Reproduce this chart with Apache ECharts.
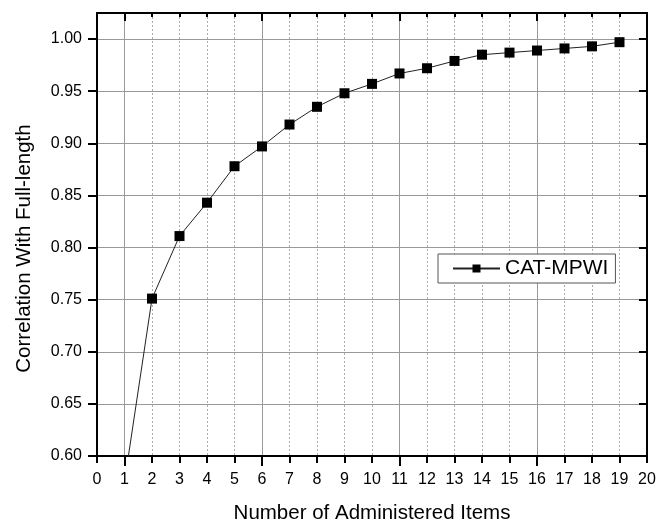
<!DOCTYPE html>
<html>
<head>
<meta charset="utf-8">
<script src="https://cdn.jsdelivr.net/npm/echarts@6/dist/echarts.min.js"></script>
<style>
  html, body { margin: 0; padding: 0; background: #fff; }
  #chart { width: 669px; height: 521px; }
</style>
</head>
<body>
<div id="chart"></div>
<script>
// Number of administered items (x) and correlation with the full-length test (y)
var items = [1, 2, 3, 4, 5, 6, 7, 8, 9, 10, 11, 12, 13, 14, 15, 16, 17, 18, 19];
var correlation = [0.575, 0.751, 0.811, 0.843, 0.878, 0.897, 0.918, 0.935, 0.948, 0.957,
                   0.967, 0.972, 0.979, 0.985, 0.987, 0.989, 0.991, 0.993, 0.997];
var seriesName = 'CAT-MPWI';
var xMajorTicks = [1, 6, 11, 16];
var yTicks = [0.60, 0.65, 0.70, 0.75, 0.80, 0.85, 0.90, 0.95, 1.00];

var FONT = '"Liberation Sans", Arial, sans-serif';
var points = items.map(function (x, i) { return [x, correlation[i]]; });

var chart = echarts.init(document.getElementById('chart'), null, { renderer: 'canvas' });
chart.setOption({
  animation: false,
  backgroundColor: '#fff',
  grid: { left: 97, top: 13, right: 22, bottom: 65, containLabel: false, outerBoundsMode: 'none' },
  legend: {
    data: [seriesName],
    left: 438, top: 254,
    orient: 'horizontal',
    backgroundColor: '#fff',
    borderColor: '#555',
    borderWidth: 1,
    padding: [4, 7, 4, 14],
    itemWidth: 47,
    itemHeight: 10,
    itemGap: 0,
    textStyle: { fontFamily: FONT, fontSize: 21, color: '#000' }
  },
  xAxis: [
    {
      // main bottom axis: labels every item, dotted minor grid
      type: 'value', min: 0, max: 20, interval: 1, position: 'bottom',
      name: 'Number of Administered Items', nameLocation: 'middle', nameGap: 47,
      nameTextStyle: { fontFamily: FONT, fontSize: 20.5, color: '#000' },
      axisLine: { show: true, onZero: false, lineStyle: { color: '#000', width: 2 } },
      axisTick: { show: true, inside: false, length: 7, lineStyle: { color: '#000', width: 2 } },
      axisLabel: { show: true, margin: 16, fontFamily: FONT, fontSize: 16, color: '#000' },
      splitLine: { show: true, lineStyle: { color: '#aaa', width: 1, type: [2, 2] } }
    },
    {
      // major ticks with solid grid lines
      type: 'value', min: 0, max: 20, position: 'bottom',
      axisLine: { show: false },
      axisTick: { show: true, inside: false, length: 10, customValues: xMajorTicks,
                  lineStyle: { color: '#000', width: 2 } },
      axisLabel: { show: false, customValues: xMajorTicks },
      splitLine: { show: true, lineStyle: { color: '#999', width: 1 } }
    },
    {
      // top frame with inward minor ticks
      type: 'value', min: 0, max: 20, interval: 1, position: 'top',
      axisLine: { show: true, onZero: false, lineStyle: { color: '#000', width: 2 } },
      axisTick: { show: true, inside: true, length: 4, lineStyle: { color: '#000', width: 2 } },
      axisLabel: { show: false },
      splitLine: { show: false }
    },
    {
      // top frame major ticks
      type: 'value', min: 0, max: 20, position: 'top',
      axisLine: { show: false },
      axisTick: { show: true, inside: true, length: 8, customValues: xMajorTicks,
                  lineStyle: { color: '#000', width: 2 } },
      axisLabel: { show: false, customValues: xMajorTicks },
      splitLine: { show: false }
    }
  ],
  yAxis: [
    {
      type: 'value', min: 0.6, max: 1.025, position: 'left',
      name: 'Correlation With Full-length', nameLocation: 'middle', nameGap: 62,
      nameTextStyle: { fontFamily: FONT, fontSize: 20.5, color: '#000', padding: [0, 28, 0, 0] },
      axisLine: { show: true, onZero: false, lineStyle: { color: '#000', width: 2 } },
      axisTick: { show: true, inside: false, length: 9, customValues: yTicks,
                  lineStyle: { color: '#000', width: 2 } },
      axisLabel: { show: true, margin: 15, customValues: yTicks, fontFamily: FONT, fontSize: 16, color: '#000',
                   formatter: function (v) { return v.toFixed(2); } },
      splitLine: { show: true, lineStyle: { color: '#999', width: 1 } }
    },
    {
      type: 'value', min: 0.6, max: 1.025, position: 'right',
      axisLine: { show: true, onZero: false, lineStyle: { color: '#000', width: 2 } },
      axisTick: { show: true, inside: true, length: 8, customValues: yTicks,
                  lineStyle: { color: '#000', width: 2 } },
      axisLabel: { show: false, customValues: yTicks },
      splitLine: { show: false }
    }
  ],
  series: [
    {
      name: seriesName,
      type: 'line',
      xAxisIndex: 0, yAxisIndex: 0,
      data: points,
      clip: true,
      symbol: 'rect',
      symbolSize: 10,
      showAllSymbol: true,
      lineStyle: { color: '#222', width: 1 },
      itemStyle: { color: '#000', borderColor: '#000', borderWidth: 0 },
      z: 5
    }
  ]
});
</script>
</body>
</html>
